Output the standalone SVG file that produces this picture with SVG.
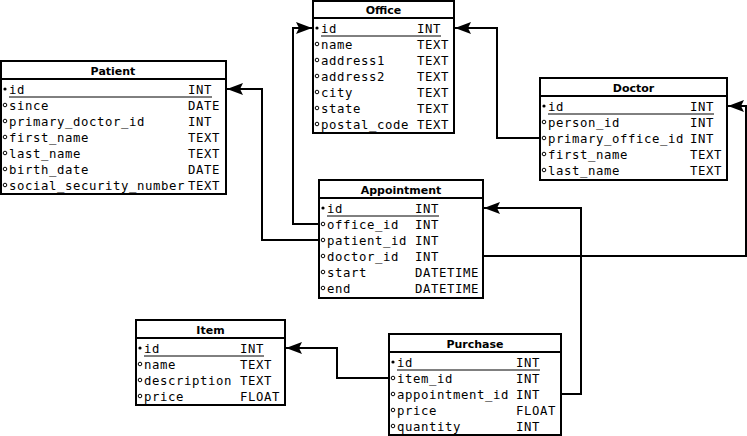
<svg xmlns="http://www.w3.org/2000/svg" width="747" height="436" viewBox="0 0 747 436">
<defs>
<marker id="arr" markerWidth="18" markerHeight="14" refX="16" refY="7" orient="auto" markerUnits="userSpaceOnUse">
<path d="M0,1 L16,7 L0,13 L3,7 z" fill="#000"/>
</marker>
</defs>
<style>
.box{fill:#fff;stroke:#000;stroke-width:2}
.sep{stroke:#000;stroke-width:2}
.ul{stroke:#000;stroke-width:1}
.title{font-family:"DejaVu Sans",sans-serif;font-weight:bold;font-size:11px;text-anchor:middle;fill:#000}
.f{font-family:"DejaVu Sans Mono",monospace;font-size:12.3px;letter-spacing:0.6px;fill:#000}
.pk{fill:#000}
.fk{fill:none;stroke:#000;stroke-width:1}
.c{fill:none;stroke:#000;stroke-width:2}
</style>
<rect width="747" height="436" fill="#fff"/>

<g id="connectors">
<path class="c" d="M319,224 H293 V28 H312" marker-end="url(#arr)"/>
<path class="c" d="M319,240 H262 V89 H227" marker-end="url(#arr)"/>
<path class="c" d="M540,138 H497 V28 H455" marker-end="url(#arr)"/>
<path class="c" d="M483,256 H746 V106 H728" marker-end="url(#arr)"/>
<path class="c" d="M561,394 H581 V208 H484" marker-end="url(#arr)"/>
<path class="c" d="M389,378 H337 V348 H286" marker-end="url(#arr)"/>
</g>

<g id="office">
<rect class="box" x="313" y="1" width="141" height="132"/>
<line class="sep" x1="313" y1="18" x2="454" y2="18"/>
<text class="title" x="383.5" y="14">Office</text>
<circle class="pk" cx="317" cy="28" r="1.6"/>
<text class="f" x="321" y="33">id</text><text class="f" x="417" y="33">INT</text>
<line class="ul" x1="321" y1="36" x2="441" y2="36"/>
<circle class="fk" cx="317" cy="44" r="1.8"/><text class="f" x="321" y="49">name</text><text class="f" x="417" y="49">TEXT</text>
<circle class="fk" cx="317" cy="60" r="1.8"/><text class="f" x="321" y="65">address1</text><text class="f" x="417" y="65">TEXT</text>
<circle class="fk" cx="317" cy="76" r="1.8"/><text class="f" x="321" y="81">address2</text><text class="f" x="417" y="81">TEXT</text>
<circle class="fk" cx="317" cy="92" r="1.8"/><text class="f" x="321" y="97">city</text><text class="f" x="417" y="97">TEXT</text>
<circle class="fk" cx="317" cy="108" r="1.8"/><text class="f" x="321" y="113">state</text><text class="f" x="417" y="113">TEXT</text>
<circle class="fk" cx="317" cy="124" r="1.8"/><text class="f" x="321" y="129">postal_code</text><text class="f" x="417" y="129">TEXT</text>
</g>

<g id="patient">
<rect class="box" x="1" y="61" width="225" height="133"/>
<line class="sep" x1="1" y1="79" x2="226" y2="79"/>
<text class="title" x="113" y="75">Patient</text>
<circle class="pk" cx="5" cy="89" r="1.6"/>
<text class="f" x="9" y="94">id</text><text class="f" x="188" y="94">INT</text>
<line class="ul" x1="9" y1="97" x2="212" y2="97"/>
<circle class="fk" cx="5" cy="105" r="1.8"/><text class="f" x="9" y="110">since</text><text class="f" x="188" y="110">DATE</text>
<circle class="fk" cx="5" cy="121" r="1.8"/><text class="f" x="9" y="126">primary_doctor_id</text><text class="f" x="188" y="126">INT</text>
<circle class="fk" cx="5" cy="137" r="1.8"/><text class="f" x="9" y="142">first_name</text><text class="f" x="188" y="142">TEXT</text>
<circle class="fk" cx="5" cy="153" r="1.8"/><text class="f" x="9" y="158">last_name</text><text class="f" x="188" y="158">TEXT</text>
<circle class="fk" cx="5" cy="169" r="1.8"/><text class="f" x="9" y="174">birth_date</text><text class="f" x="188" y="174">DATE</text>
<circle class="fk" cx="5" cy="185" r="1.8"/><text class="f" x="9" y="190">social_security_number</text><text class="f" x="188" y="190">TEXT</text>
</g>

<g id="doctor">
<rect class="box" x="540" y="78" width="187" height="102"/>
<line class="sep" x1="540" y1="96" x2="727" y2="96"/>
<text class="title" x="633.5" y="92">Doctor</text>
<circle class="pk" cx="544" cy="106" r="1.6"/>
<text class="f" x="548" y="111">id</text><text class="f" x="690" y="111">INT</text>
<line class="ul" x1="548" y1="114" x2="714" y2="114"/>
<circle class="fk" cx="544" cy="122" r="1.8"/><text class="f" x="548" y="127">person_id</text><text class="f" x="690" y="127">INT</text>
<circle class="fk" cx="544" cy="138" r="1.8"/><text class="f" x="548" y="143">primary_office_id</text><text class="f" x="690" y="143">INT</text>
<circle class="fk" cx="544" cy="154" r="1.8"/><text class="f" x="548" y="159">first_name</text><text class="f" x="690" y="159">TEXT</text>
<circle class="fk" cx="544" cy="170" r="1.8"/><text class="f" x="548" y="175">last_name</text><text class="f" x="690" y="175">TEXT</text>
</g>

<g id="appointment">
<rect class="box" x="319" y="180" width="164" height="118"/>
<line class="sep" x1="319" y1="198" x2="483" y2="198"/>
<text class="title" x="401" y="194">Appointment</text>
<circle class="pk" cx="323" cy="208" r="1.6"/>
<text class="f" x="327" y="213">id</text><text class="f" x="415" y="213">INT</text>
<line class="ul" x1="327" y1="216" x2="439" y2="216"/>
<circle class="fk" cx="323" cy="224" r="1.8"/><text class="f" x="327" y="229">office_id</text><text class="f" x="415" y="229">INT</text>
<circle class="fk" cx="323" cy="240" r="1.8"/><text class="f" x="327" y="245">patient_id</text><text class="f" x="415" y="245">INT</text>
<circle class="fk" cx="323" cy="256" r="1.8"/><text class="f" x="327" y="261">doctor_id</text><text class="f" x="415" y="261">INT</text>
<circle class="fk" cx="323" cy="272" r="1.8"/><text class="f" x="327" y="277">start</text><text class="f" x="415" y="277">DATETIME</text>
<circle class="fk" cx="323" cy="288" r="1.8"/><text class="f" x="327" y="293">end</text><text class="f" x="415" y="293">DATETIME</text>
</g>

<g id="item">
<rect class="box" x="136" y="320" width="149" height="85"/>
<line class="sep" x1="136" y1="338" x2="285" y2="338"/>
<text class="title" x="210.5" y="334">Item</text>
<circle class="pk" cx="140" cy="348" r="1.6"/>
<text class="f" x="144" y="353">id</text><text class="f" x="240" y="353">INT</text>
<line class="ul" x1="144" y1="356" x2="264" y2="356"/>
<circle class="fk" cx="140" cy="364" r="1.8"/><text class="f" x="144" y="369">name</text><text class="f" x="240" y="369">TEXT</text>
<circle class="fk" cx="140" cy="380" r="1.8"/><text class="f" x="144" y="385">description</text><text class="f" x="240" y="385">TEXT</text>
<circle class="fk" cx="140" cy="396" r="1.8"/><text class="f" x="144" y="401">price</text><text class="f" x="240" y="401">FLOAT</text>
</g>

<g id="purchase">
<rect class="box" x="389" y="334" width="172" height="101"/>
<line class="sep" x1="389" y1="352" x2="561" y2="352"/>
<text class="title" x="475" y="348">Purchase</text>
<circle class="pk" cx="393" cy="362" r="1.6"/>
<text class="f" x="397" y="367">id</text><text class="f" x="516" y="367">INT</text>
<line class="ul" x1="397" y1="370" x2="540" y2="370"/>
<circle class="fk" cx="393" cy="378" r="1.8"/><text class="f" x="397" y="383">item_id</text><text class="f" x="516" y="383">INT</text>
<circle class="fk" cx="393" cy="394" r="1.8"/><text class="f" x="397" y="399">appointment_id</text><text class="f" x="516" y="399">INT</text>
<circle class="fk" cx="393" cy="410" r="1.8"/><text class="f" x="397" y="415">price</text><text class="f" x="516" y="415">FLOAT</text>
<circle class="fk" cx="393" cy="426" r="1.8"/><text class="f" x="397" y="431">quantity</text><text class="f" x="516" y="431">INT</text>
</g>
</svg>
